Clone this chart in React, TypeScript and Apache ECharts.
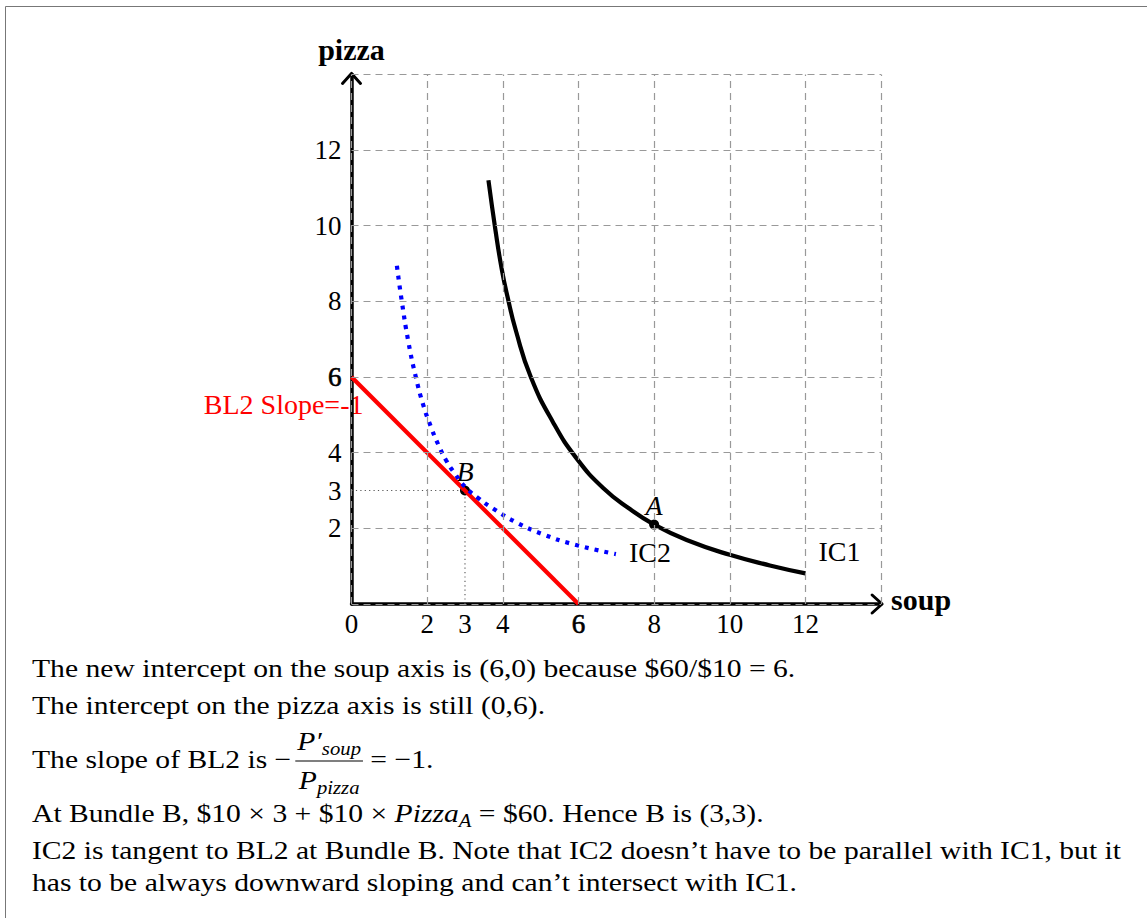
import React, { useEffect, useRef } from 'react';
import * as echarts from 'echarts';

// ---------- data ----------
const xTickLabels = [0, 2, 3, 4, 6, 8, 10, 12];
const yTickLabels = [2, 3, 4, 6, 8, 10, 12];
const gridValues = [0, 2, 4, 6, 8, 10, 12, 14];
const budgetLine2 = [[0, 6], [6, 0]];
const ic1 = [
  [3.62, 11.2], [3.81, 9.85], [3.97, 8.86], [4.12, 8.14], [4.35, 7.21], [4.74, 6.0],
  [5.33, 4.8], [5.95, 3.85], [6.66, 3.06], [7.36, 2.51], [8.0, 2.1], [8.86, 1.69],
  [10.0, 1.3], [11.06, 1.02], [12.0, 0.81],
];
const ic2 = [
  [1.2, 8.94], [1.33, 8.0], [1.5, 6.95], [1.7, 6.0], [1.9, 5.25], [2.1, 4.68],
  [2.3, 4.2], [2.5, 3.8], [2.75, 3.42], [3.0, 3.1], [3.35, 2.8], [3.75, 2.52],
  [4.37, 2.15], [5.07, 1.84], [5.86, 1.58], [6.99, 1.32],
];
const bundles = [
  { name: 'A', value: [8, 2.1] },
  { name: 'B', value: [3, 3] },
];
const guideH = [[0, 3], [3, 3]];
const guideV = [[3, 0], [3, 3]];
const bl2Label = 'BL2 Slope=-1';
const xAxisName = 'soup';
const yAxisName = 'pizza';

type Seg = { t: string; italic?: boolean; sub?: boolean };
const textLine1: Seg[] = [{ t: 'The new intercept on the soup axis is (6,0) because $60/$10 = 6.' }];
const textLine2: Seg[] = [{ t: 'The intercept on the pizza axis is still (0,6).' }];
const textLine3a: Seg[] = [{ t: 'The slope of BL2 is \u2212' }];
const fracNum: Seg[] = [{ t: 'P\u2032', italic: true }, { t: 'soup', italic: true, sub: true }];
const fracDen: Seg[] = [{ t: 'P', italic: true }, { t: 'pizza', italic: true, sub: true }];
const textLine3b: Seg[] = [{ t: ' = \u22121.' }];
const textLine4: Seg[] = [
  { t: 'At Bundle B, $10 \u00d7 3 + $10 \u00d7 ' },
  { t: 'Pizza', italic: true },
  { t: 'A', italic: true, sub: true },
  { t: ' = $60. Hence B is (3,3).' },
];
const textLine5: Seg[] = [{ t: 'IC2 is tangent to BL2 at Bundle B. Note that IC2 doesn\u2019t have to be parallel with IC1, but it' }];
const textLine6: Seg[] = [{ t: 'has to be always downward sloping and can\u2019t intersect with IC1.' }];

const FONT = '"Liberation Serif", "DejaVu Serif", serif';
const W = 1147;
const H = 918;

let measureCtx: CanvasRenderingContext2D | null = null;
function measure(t: string, size: number, style = 'normal', weight = 'normal') {
  if (!measureCtx) measureCtx = document.createElement('canvas').getContext('2d');
  measureCtx!.font = `${style} ${weight} ${size}px ${FONT}`;
  return measureCtx!.measureText(t).width;
}

function textEl(t: string, x: number, baseline: number, size: number, style = 'normal', weight = 'normal', color = '#000', align = 'left', sx = 1) {
  return {
    type: 'text',
    silent: true,
    x,
    y: baseline - 0.33 * size,
    scaleX: sx,
    style: {
      text: t,
      fill: color,
      fontFamily: FONT,
      fontSize: size,
      fontStyle: style,
      fontWeight: weight,
      textAlign: align,
      align,
      textVerticalAlign: 'middle',
      verticalAlign: 'middle',
    },
  };
}

function segWidth(segs: Seg[], size: number, sx = 1) {
  let w = 0;
  for (const s of segs) w += measure(s.t, s.sub ? size * 0.7 : size, s.italic ? 'italic' : 'normal');
  return w * sx;
}

function layout(segs: Seg[], x: number, baseline: number, size: number, sx: number, out: any[]) {
  let cx = x;
  for (const s of segs) {
    const fs = s.sub ? size * 0.7 : size;
    const st = s.italic ? 'italic' : 'normal';
    const by = s.sub ? baseline + size * 0.2 : baseline;
    out.push(textEl(s.t, cx, by, fs, st, 'normal', '#000', 'left', sx));
    cx += measure(s.t, fs, st) * sx;
  }
  return cx;
}

export default function App() {
  const ref = useRef<HTMLDivElement>(null);
  useEffect(() => {
    if (!ref.current) return;
    const chart = echarts.init(ref.current, undefined, { renderer: 'svg' });
    const tickFont = { fontFamily: FONT, fontSize: 27, color: '#000' };
    const boldSix = { fontFamily: FONT, fontSize: 27, color: '#000', textBorderColor: '#000', textBorderWidth: 0.6 };
    const option: any = {
      animation: false,
      backgroundColor: '#fff',
      grid: { left: 351.5, right: W - 881.1, top: 74.4, bottom: H - 604, containLabel: false },
      xAxis: {
        type: 'value', min: 0, max: 14, interval: 1,
        axisLine: { show: true, onZero: false, lineStyle: { color: '#000', width: 3.5 } },
        axisTick: { show: false },
        splitLine: { show: false },
        axisLabel: {
          ...tickFont, margin: 6,
          formatter: (v: number) => (xTickLabels.includes(v) ? (v === 6 ? `{b|${v}}` : `${v}`) : ''),
          rich: { b: boldSix },
        },
      },
      yAxis: {
        type: 'value', min: 0, max: 14, interval: 1,
        axisLine: { show: true, onZero: false, lineStyle: { color: '#000', width: 3.5 } },
        axisTick: { show: false },
        splitLine: { show: false },
        axisLabel: {
          ...tickFont, margin: 10,
          formatter: (v: number) => (yTickLabels.includes(v) ? (v === 6 ? `{b|${v}}` : `${v}`) : ''),
          rich: { b: boldSix },
        },
      },
      series: [
        {
          type: 'line', data: [], silent: true,
          markLine: {
            silent: true, symbol: ['none', 'none'], label: { show: false },
            lineStyle: { color: '#999', type: [7, 5], width: 1.2 },
            emphasis: { disabled: true },
            data: [...gridValues.map((v) => ({ xAxis: v })), ...gridValues.map((v) => ({ yAxis: v }))],
          },
        },
        {
          type: 'line', data: guideH, symbol: 'none', silent: true,
          lineStyle: { color: '#555', width: 1.1, type: [1.2, 3.2] },
        },
        {
          type: 'line', data: guideV, symbol: 'none', silent: true,
          lineStyle: { color: '#555', width: 1.1, type: [1.2, 3.2] },
        },
        {
          type: 'line', data: budgetLine2, symbol: 'none', silent: true,
          lineStyle: { color: '#ff0000', width: 4.2 },
        },
        {
          type: 'line', data: ic2, symbol: 'none', smooth: 0.5, silent: true,
          lineStyle: { color: '#0000ff', width: 4.2, type: [4, 6], cap: 'butt' },
          endLabel: { show: true, formatter: 'IC2', offset: [5, -2], fontFamily: FONT, fontSize: 28, color: '#000' },
        },
        {
          type: 'line', data: ic1, symbol: 'none', smooth: 0.5, silent: true,
          lineStyle: { color: '#000', width: 4.2 },
          endLabel: { show: true, formatter: 'IC1', offset: [5, -22], fontFamily: FONT, fontSize: 28, color: '#000' },
        },
        {
          type: 'scatter', data: bundles, symbol: 'circle', symbolSize: 10, silent: true,
          itemStyle: { color: '#000', opacity: 1 },
          label: {
            show: true, position: 'top', distance: 0, formatter: '{b}',
            fontFamily: FONT, fontSize: 28, fontStyle: 'italic', color: '#000', opacity: 1,
          },
        },
      ],
    };
    chart.setOption(option);

    const g: any[] = [];
    // frame
    g.push({ type: 'rect', silent: true, shape: { x: 5.5, y: 6.5, width: 1400, height: 1400 }, style: { fill: 'none', stroke: '#777', lineWidth: 1 } });
    // arrowheads
    const xe = chart.convertToPixel({ gridIndex: 0 }, [14, 0]) as number[];
    const ye = chart.convertToPixel({ gridIndex: 0 }, [0, 14]) as number[];
    const a = 9;
    g.push({ type: 'polyline', silent: true, shape: { points: [[xe[0] - a, xe[1] - a], [xe[0] + 1, xe[1]], [xe[0] - a, xe[1] + a]] }, style: { stroke: '#000', lineWidth: 3, fill: 'none', lineCap: 'round', lineJoin: 'round' } });
    g.push({ type: 'polyline', silent: true, shape: { points: [[ye[0] - a, ye[1] + a], [ye[0], ye[1] - 1], [ye[0] + a, ye[1] + a]] }, style: { stroke: '#000', lineWidth: 3, fill: 'none', lineCap: 'round', lineJoin: 'round' } });
    // axis names
    g.push(textEl(xAxisName, xe[0] + 10, xe[1] + 5, 30, 'normal', 'bold', '#000', 'left'));
    g.push(textEl(yAxisName, ye[0], ye[1] - 15, 30, 'normal', 'bold', '#000', 'center'));
    // BL2 label next to its pizza-axis intercept
    const bl = chart.convertToPixel({ gridIndex: 0 }, budgetLine2[0]) as number[];
    g.push(textEl(bl2Label, bl[0] + 12, bl[1] + 37, 28, 'normal', 'normal', '#ff0000', 'right'));

    // body text
    const S = 26;
    const k = 1089 / segWidth(textLine5, S);
    const x0 = 32;
    layout(textLine1, x0, 677, S, k, g);
    layout(textLine2, x0, 714, S, k, g);
    let cx = layout(textLine3a, x0, 768, S, k, g) + 4;
    const wn = segWidth(fracNum, S, k);
    const wd = segWidth(fracDen, S, k);
    const fw = Math.max(wn, wd) + 4;
    layout(fracNum, cx + (fw - wn) / 2, 750, S, k, g);
    layout(fracDen, cx + (fw - wd) / 2, 789, S, k, g);
    g.push({ type: 'line', silent: true, shape: { x1: cx, y1: 761, x2: cx + fw, y2: 761 }, style: { stroke: '#000', lineWidth: 1.1 } });
    cx += fw;
    layout(textLine3b, cx, 768, S, k, g);
    layout(textLine4, x0, 822, S, k, g);
    layout(textLine5, x0, 859, S, k, g);
    layout(textLine6, x0, 891, S, k, g);

    chart.setOption({ graphic: g });
    return () => chart.dispose();
  }, []);
  return <div ref={ref} style={{ position: 'absolute', left: 0, top: 0, width: W, height: H }} />;
}
